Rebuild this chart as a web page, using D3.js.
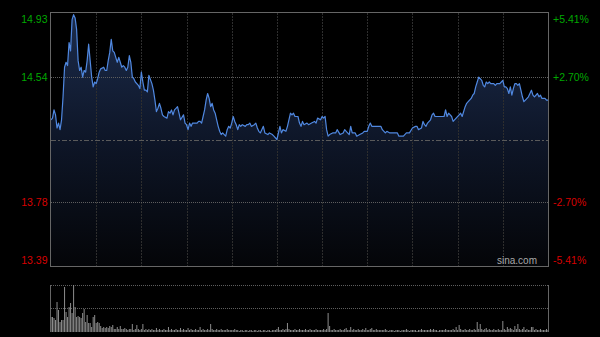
<!DOCTYPE html>
<html>
<head>
<meta charset="utf-8">
<script src="https://cdn.jsdelivr.net/npm/d3@7"></script>
<style>
  html, body { margin: 0; padding: 0; background: #000; }
  svg { display: block; }
</style>
</head>
<body>
<svg id="chart" width="600" height="337"></svg>
<script>
// minutes since open (HK session, 330 min) and last price
var times = [0,1,2,3,4,5,6,7,8,9,10,11,12,13,14,15,16,17,18,19,20,21,22,23,24,25,26,27,28,29,30,31,32,33,35,36,37,38,39,40,
  41,42,43,44,45,46,47,48,49,50,51,52,53,54,55,56,58,59,60,61,62,63,64,65,67,68,69,70,71,72,73,74,75,77,78,79,80,81,82,83,
  84,85,86,88,89,90,91,92,93,94,95,97,98,99,100,101,102,103,104,105,106,107,108,109,110,111,112,113,114,115,116,117,118,119,120,121,
  122,123,124,125,126,127,129,130,131,132,133,135,136,137,138,139,141,142,144,145,147,148,150,152,153,154,156,157,159,160,161,162,164,165,
  166,167,168,170,171,173,175,176,177,179,180,181,182,183,184,185,187,189,190,192,194,195,196,198,199,200,202,203,205,207,208,210,211,212,
  213,217,219,220,222,223,225,228,230,231,233,234,236,238,240,242,243,244,246,247,248,249,250,252,253,254,255,258,261,262,263,264,266,267,
  269,271,272,273,275,276,277,279,280,281,282,283,284,286,287,288,289,290,291,292,294,295,296,298,299,300,301,302,303,304,305,306,307,308,
  309,310,311,312,313,314,315,317,318,319,320,321,323,324,325,326,328,329,330];

var prices = [14.28,14.29,14.34,14.31,14.23,14.26,14.22,14.28,14.42,14.60,14.63,14.61,14.75,14.70,14.89,14.92,14.90,14.83,14.64,14.58,
  14.60,14.54,14.58,14.57,14.64,14.74,14.64,14.54,14.48,14.51,14.50,14.53,14.57,14.59,14.60,14.58,14.58,14.64,14.69,14.77,
  14.70,14.69,14.66,14.63,14.66,14.63,14.60,14.61,14.60,14.58,14.60,14.67,14.63,14.54,14.53,14.51,14.49,14.47,14.57,14.51,
  14.46,14.46,14.45,14.55,14.50,14.46,14.40,14.33,14.35,14.38,14.35,14.31,14.30,14.29,14.33,14.32,14.34,14.31,14.34,14.35,
  14.36,14.32,14.28,14.31,14.26,14.25,14.22,14.26,14.24,14.26,14.26,14.26,14.27,14.27,14.26,14.30,14.34,14.40,14.44,14.41,
  14.36,14.38,14.34,14.32,14.28,14.24,14.21,14.19,14.20,14.19,14.18,14.22,14.24,14.23,14.26,14.30,14.27,14.25,14.22,14.25,
  14.24,14.25,14.24,14.25,14.25,14.26,14.24,14.25,14.26,14.23,14.21,14.20,14.24,14.20,14.19,14.20,14.19,14.18,14.16,14.24,
  14.20,14.22,14.21,14.24,14.32,14.31,14.32,14.30,14.30,14.26,14.24,14.27,14.25,14.26,14.25,14.26,14.27,14.26,14.29,14.28,
  14.30,14.29,14.30,14.22,14.18,14.19,14.20,14.20,14.22,14.19,14.20,14.22,14.21,14.19,14.24,14.20,14.20,14.18,14.19,14.20,
  14.21,14.21,14.24,14.26,14.24,14.24,14.24,14.22,14.20,14.21,14.20,14.20,14.20,14.18,14.18,14.18,14.20,14.20,14.23,14.24,
  14.24,14.22,14.23,14.27,14.25,14.24,14.26,14.28,14.31,14.32,14.30,14.30,14.30,14.34,14.30,14.32,14.30,14.27,14.29,14.31,
  14.32,14.30,14.36,14.38,14.39,14.41,14.43,14.44,14.48,14.51,14.54,14.52,14.49,14.48,14.51,14.50,14.51,14.50,14.50,14.49,
  14.50,14.50,14.51,14.52,14.48,14.48,14.47,14.44,14.48,14.43,14.47,14.50,14.50,14.49,14.50,14.46,14.42,14.39,14.40,14.42,
  14.44,14.46,14.43,14.42,14.44,14.42,14.43,14.41,14.41,14.40,14.40];

// volume per minute (relative units)
var volumes = [15,15,14,12,30,22,10,12,12,45, 20,15,25,29,19,47,25,15,16,15, 14,19,23,10,17,9,9,5,15,17,
  9,10,9,6,4,5,4,5,4,6, 5,7,3,3,5,3,6,3,3,4, 3,2,3,3,8,2,3,7,3,2, 3,8,2,3,2,3,2,3,2,2,
  4,2,3,2,2,3,2,2,5,2, 3,2,2,3,2,2,4,2,3,2, 2,4,2,3,2,2,3,2,2,5, 2,3,2,2,3,2,8,3,2,2,
  3,2,2,3,2,2,2,3,2,2, 2,2,3,2,2,1,2,2,1,2, 2,1,2,2,1,2,2,1,2,2, 1,2,2,1,2,2,1,2,2,2,
  3,5,2,2,3,2,3,9,3,2, 2,2,3,2,2,3,2,2,2,3, 2,2,3,2,2,2,3,2,2,2, 2,3,2,3,19,6,2,2,3,2,
  2,2,3,2,2,3,4,2,2,5, 2,3,2,2,3,2,2,3,2,4, 2,2,3,4,2,2,3,2,2,2, 2,2,3,2,1,2,2,2,1,2,
  2,2,1,2,2,2,3,2,1,2, 2,2,2,1,2,2,3,2,2,2, 2,2,3,2,3,2,2,1,2,2, 2,2,3,2,2,2,2,3,2,5,
  2,7,3,2,2,3,2,2,3,2, 2,3,2,10,3,8,3,2,3,4, 2,3,2,2,3,2,2,3,2,2, 11,3,2,5,3,4,3,2,6,3,
  8,3,2,3,5,2,3,2,2,5, 5,2,3,2,2,3,2,2,2,3, 2];

var prevClose = 14.16;
var priceTicks = [14.93, 14.54, 13.78, 13.39];
var pctLabels = ['+5.41%', '+2.70%', '-2.70%', '-5.41%'];
var sessionMinutes = 330;
var gridMinutes = [30, 60, 90, 120, 150, 180, 210, 240, 270, 300];

var svg;

document.addEventListener('DOMContentLoaded', function() {
  svg = d3.select('#chart');
  drawPrice();
  drawVolume();
});

function drawPrice() {
  var left = 51, right = 548, top = 13, bottom = 266;

  var x = d3.scaleLinear().domain([0, sessionMinutes]).range([left, right]);
  var y = d3.scaleLinear().domain([13.39, 14.93]).range([bottom, top]);

  var defs = svg.append('defs');
  var grad = defs.append('linearGradient')
    .attr('id', 'areaFill')
    .attr('gradientUnits', 'userSpaceOnUse')
    .attr('x1', 0).attr('x2', 0)
    .attr('y1', top).attr('y2', bottom);
  grad.append('stop').attr('offset', '0%').attr('stop-color', '#1c2c4c');
  grad.append('stop').attr('offset', '50%').attr('stop-color', '#0e1628');
  grad.append('stop').attr('offset', '100%').attr('stop-color', '#040508');

  var pts = times.map(function(t, i) { return [t, prices[i]]; });

  // area under the price line
  svg.append('path')
    .datum(pts)
    .attr('fill', 'url(#areaFill)')
    .attr('d', d3.area()
      .x(function(d) { return x(d[0]); })
      .y0(bottom)
      .y1(function(d) { return y(d[1]); }));

  // vertical grid
  svg.selectAll('.vgrid')
    .data(gridMinutes)
    .enter().append('line')
    .attr('x1', function(d) { return Math.round(x(d)) + 0.5; })
    .attr('x2', function(d) { return Math.round(x(d)) + 0.5; })
    .attr('y1', top).attr('y2', bottom)
    .attr('stroke', '#2e2e2e')
    .attr('stroke-dasharray', '2,1');

  // horizontal grid
  svg.selectAll('.hgrid')
    .data([14.54, 13.78])
    .enter().append('line')
    .attr('x1', left).attr('x2', right)
    .attr('y1', function(d) { return Math.round(y(d)) + 0.5; })
    .attr('y2', function(d) { return Math.round(y(d)) + 0.5; })
    .attr('stroke', '#5e5e5e')
    .attr('stroke-dasharray', '1,1');

  // previous close
  svg.append('line')
    .attr('x1', left).attr('x2', right)
    .attr('y1', Math.round(y(prevClose)) + 0.5)
    .attr('y2', Math.round(y(prevClose)) + 0.5)
    .attr('stroke', '#5a5a5a')
    .attr('stroke-dasharray', '5,2,2,2');

  // price line
  svg.append('path')
    .datum(pts)
    .attr('fill', 'none')
    .attr('stroke', '#5088e0')
    .attr('stroke-width', 1.2)
    .attr('stroke-linejoin', 'round')
    .attr('d', d3.line()
      .x(function(d) { return x(d[0]); })
      .y(function(d) { return y(d[1]); }));

  // frame
  svg.append('rect')
    .attr('x', left - 0.5).attr('y', top - 0.5)
    .attr('width', right - left + 1).attr('height', bottom - top + 1)
    .attr('fill', 'none')
    .attr('stroke', '#666');

  // labels, edge ones pulled inside the frame
  var shift = [6, 0, 0, -6];
  var colors = ['#00a800', '#00a800', '#d80000', '#d80000'];

  svg.selectAll('.plabel')
    .data(priceTicks)
    .enter().append('text')
    .attr('x', 47.5)
    .attr('y', function(d, i) { return y(d) + shift[i] + 3.6; })
    .attr('text-anchor', 'end')
    .attr('font-family', 'Arial, "Liberation Sans", sans-serif')
    .attr('font-size', '10.5px')
    .attr('fill', function(d, i) { return colors[i]; })
    .text(function(d) { return d.toFixed(2); });

  svg.selectAll('.rlabel')
    .data(priceTicks)
    .enter().append('text')
    .attr('x', 553)
    .attr('y', function(d, i) { return y(d) + shift[i] + 3.6; })
    .attr('font-family', 'Arial, "Liberation Sans", sans-serif')
    .attr('font-size', '10.5px')
    .attr('fill', function(d, i) { return colors[i]; })
    .text(function(d, i) { return pctLabels[i]; });

  // watermark
  svg.append('text')
    .attr('x', 537)
    .attr('y', 264)
    .attr('text-anchor', 'end')
    .attr('font-family', 'Arial, "Liberation Sans", sans-serif')
    .attr('font-size', '10px')
    .attr('fill', '#a8a8a8')
    .text('sina.com');
}

function drawVolume() {
  var left = 51, right = 548, top = 285, bottom = 332;

  var x = d3.scaleLinear().domain([0, sessionMinutes]).range([left, right]);
  var y = d3.scaleLinear().domain([0, d3.max(volumes)]).range([bottom, top]);

  svg.selectAll('.vline')
    .data([top, (top + bottom) / 2 - 0.5])
    .enter().append('line')
    .attr('x1', left).attr('x2', right)
    .attr('y1', function(d) { return Math.round(d) + 0.5; })
    .attr('y2', function(d) { return Math.round(d) + 0.5; })
    .attr('stroke', '#5e5e5e')
    .attr('stroke-dasharray', '1,1');

  svg.selectAll('.vbar')
    .data(volumes)
    .enter().append('rect')
    .attr('x', function(d, i) { return x(i) - 0.5; })
    .attr('y', function(d) { return y(d); })
    .attr('width', 1)
    .attr('height', function(d) { return bottom - y(d); })
    .attr('fill', '#8c8c8c');

  svg.append('line')
    .attr('x1', left - 0.5).attr('x2', left - 0.5)
    .attr('y1', top).attr('y2', bottom)
    .attr('stroke', '#666');
  svg.append('line')
    .attr('x1', right + 0.5).attr('x2', right + 0.5)
    .attr('y1', top).attr('y2', bottom)
    .attr('stroke', '#666');
}
</script>
</body>
</html>
